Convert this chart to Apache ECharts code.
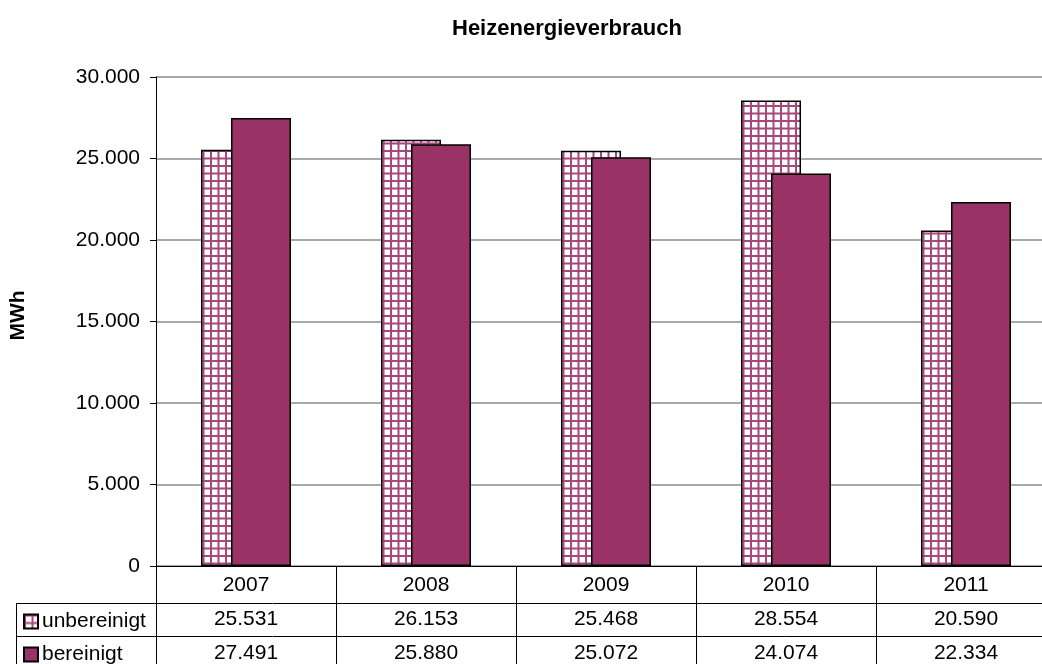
<!DOCTYPE html>
<html>
<head>
    <meta charset="utf-8">
    <title>Heizenergieverbrauch</title>
    <script src="https://cdn.jsdelivr.net/npm/echarts@6/dist/echarts.min.js"></script>
    <style>
        html, body { margin: 0; padding: 0; background: #fff; }
        #container { width: 1042px; height: 664px; }
    </style>
</head>
<body>
<div id="container"></div>
<script>
    // Daten
    var years = ['2007', '2008', '2009', '2010', '2011'];
    var unbereinigt = [25531, 26153, 25468, 28554, 20590];
    var bereinigt = [27491, 25880, 25072, 24074, 22334];
    var yTicks = [0, 5000, 10000, 15000, 20000, 25000, 30000];

    var FONT = "'Liberation Sans', Arial, sans-serif";

    // Layout der Zeichenfläche
    var gridLeft = 156, gridTop = 77, gridRight = -14, gridBottom = 98;
    var W = 1042, H = 664;
    var plotW = W - gridLeft - gridRight;
    var zeroY = H - gridBottom;
    var row1 = 603, row2 = 636, tableLeft = 16;

    // Tausenderpunkt
    function fmt(n) {
        return String(n).replace(/\B(?=(\d{3})+(?!\d))/g, '.');
    }

    // Karomuster für "unbereinigt"
    function makeCheck() {
        var c = document.createElement('canvas');
        c.width = 15; c.height = 15;
        var g = c.getContext('2d');
        g.fillStyle = '#fff';
        g.fillRect(0, 0, 15, 15);
        g.fillStyle = '#a8477d';
        g.fillRect(0, 0, 15, 2);
        g.fillRect(0, 7.5, 15, 2);
        g.fillRect(0, 0, 2, 15);
        g.fillRect(7.5, 0, 2, 15);
        return c;
    }

    // Tabellenlinien
    function tableLines() {
        var els = [];
        function line(x1, y1, x2, y2) {
            els.push({
                type: 'line',
                shape: {x1: x1, y1: y1, x2: x2, y2: y2},
                style: {stroke: '#000', lineWidth: 1},
                z: 10
            });
        }
        var band = plotW / years.length;
        for (var i = 0; i < years.length; i++) {
            var x = Math.round(gridLeft + band * i) + 0.5;
            line(x, zeroY, x, H);
        }
        line(tableLeft + 0.5, row1, tableLeft + 0.5, H);
        line(tableLeft, row1 + 0.5, W, row1 + 0.5);
        line(tableLeft, row2 + 0.5, W, row2 + 0.5);
        return els;
    }

    var myChart = echarts.init(document.getElementById('container'));
    var option = {
        animation: false,
        textStyle: {fontFamily: FONT},
        title: {
            text: 'Heizenergieverbrauch',
            left: 447,
            top: 13,
            textStyle: {fontFamily: FONT, fontSize: 22, fontWeight: 'bold', color: '#000'}
        },
        legend: {
            orient: 'vertical',
            left: 18,
            top: 606,
            height: 120,
            itemWidth: 14,
            itemHeight: 14,
            itemGap: 12,
            icon: 'rect',
            textStyle: {fontFamily: FONT, fontSize: 21, color: '#000', padding: [0, 0, 0, -1]},
            data: ['unbereinigt', 'bereinigt']
        },
        grid: {
            left: gridLeft, top: gridTop, right: gridRight, bottom: gridBottom,
            outerBoundsMode: 'none'
        },
        xAxis: {
            type: 'category',
            data: years,
            axisLine: {lineStyle: {color: '#000', width: 1}},
            axisTick: {show: false},
            axisLabel: {
                margin: 2,
                color: '#000',
                fontSize: 21,
                fontFamily: FONT,
                lineHeight: 34,
                formatter: function (value, idx) {
                    return value + '\n' + fmt(unbereinigt[idx]) + '\n' + fmt(bereinigt[idx]);
                }
            }
        },
        yAxis: {
            type: 'value',
            min: yTicks[0],
            max: yTicks[yTicks.length - 1],
            interval: yTicks[1] - yTicks[0],
            name: 'MWh',
            nameLocation: 'middle',
            nameRotate: 90,
            nameGap: 127,
            nameTextStyle: {fontFamily: FONT, fontSize: 21, fontWeight: 'bold', color: '#000', padding: [0, 0, 0, 12]},
            axisLine: {show: true, lineStyle: {color: '#000', width: 1}},
            axisTick: {show: true, length: 6, lineStyle: {color: '#000'}},
            axisLabel: {
                margin: 16,
                color: '#000',
                fontSize: 21,
                fontFamily: FONT,
                formatter: function (v) { return fmt(v); }
            },
            splitLine: {lineStyle: {color: '#8c8c8c', width: 1.5}}
        },
        series: [
            {
                name: 'unbereinigt',
                type: 'bar',
                barWidth: 60,
                barGap: '-50%',
                data: unbereinigt,
                itemStyle: {
                    color: {image: makeCheck(), repeat: 'repeat'},
                    borderColor: '#000',
                    borderWidth: 1.5
                }
            },
            {
                name: 'bereinigt',
                type: 'bar',
                barWidth: 60,
                barGap: '-50%',
                data: bereinigt,
                itemStyle: {
                    color: '#993366',
                    borderColor: '#000',
                    borderWidth: 1.5
                }
            }
        ],
        graphic: tableLines()
    };
    myChart.setOption(option);
</script>
</body>
</html>
